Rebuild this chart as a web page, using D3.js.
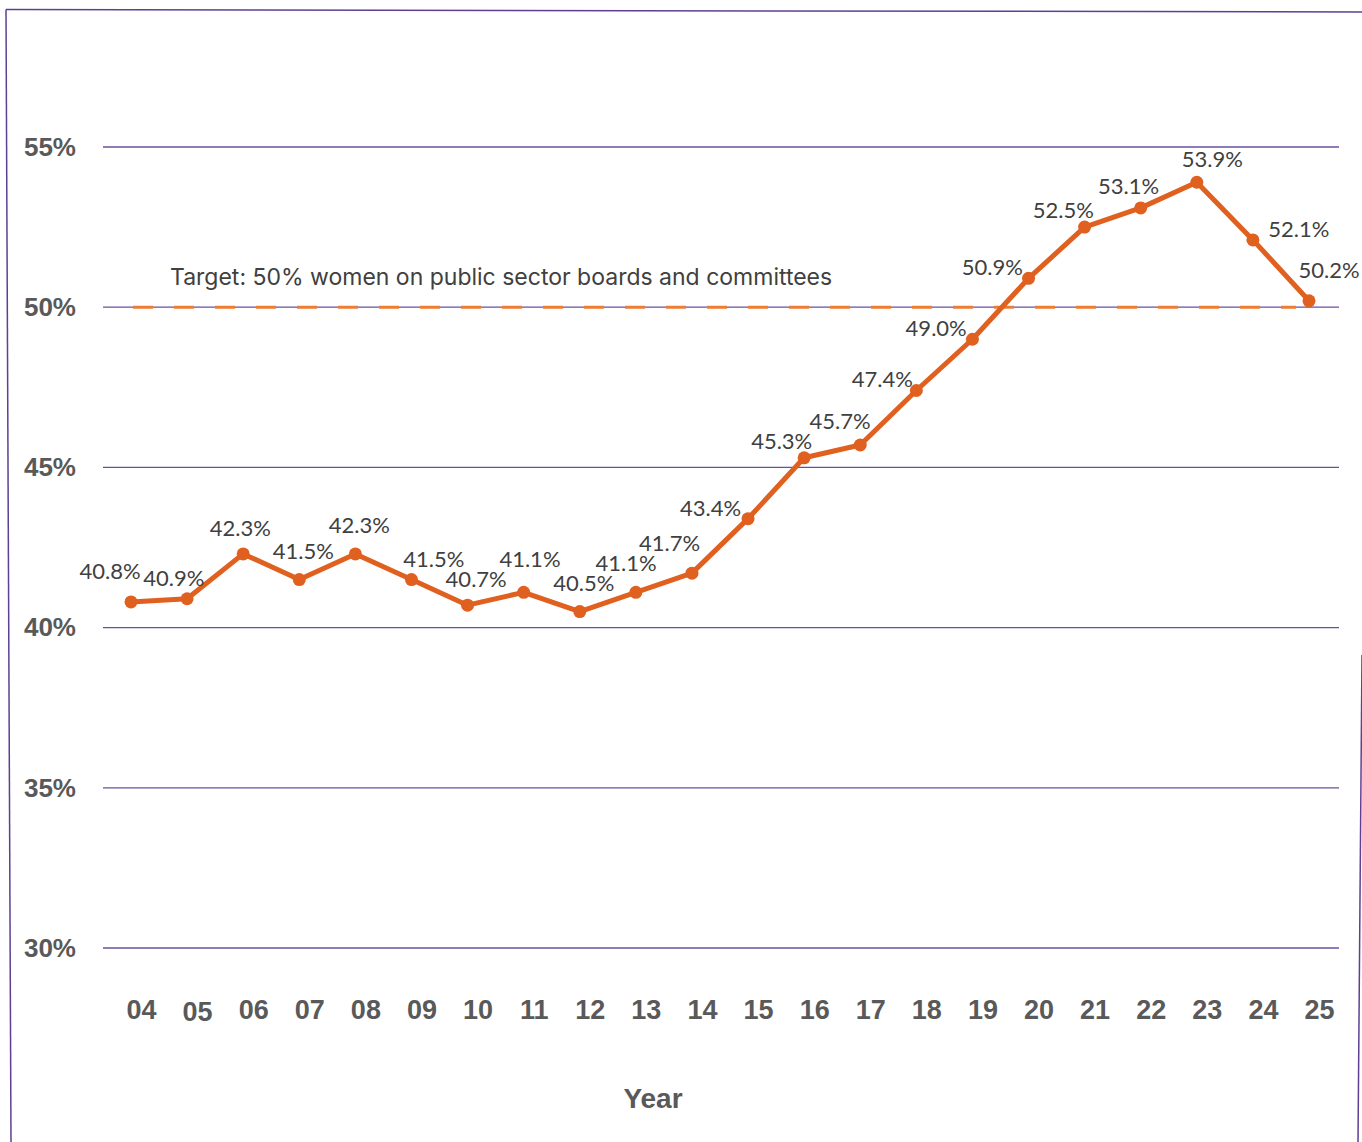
<!DOCTYPE html>
<html>
<head>
<meta charset="utf-8">
<script src="https://cdn.jsdelivr.net/npm/d3@7"></script>
<style>
  html, body { margin: 0; padding: 0; background: #fff; }
  svg { display: block; }
  .tick text { fill: #595959; font-family: "Liberation Sans", Arial, sans-serif; font-weight: bold; }
</style>
</head>
<body>
<div id="chart"></div>
<script>
const years = ['04', '05', '06', '07', '08', '09', '10', '11', '12', '13', '14',
               '15', '16', '17', '18', '19', '20', '21', '22', '23', '24', '25'];
const womenShare = [40.8, 40.9, 42.3, 41.5, 42.3, 41.5, 40.7, 41.1, 40.5, 41.1, 41.7,
                    43.4, 45.3, 45.7, 47.4, 49.0, 50.9, 52.5, 53.1, 53.9, 52.1, 50.2];
const yTicks = [30, 35, 40, 45, 50, 55];
const target = 50;
const targetLabel = 'Target: 50% women on public sector boards and committees';

const width = 1362,
  height = 1142,
  gridLeft = 103,
  gridRight = 1339,
  lineColor = '#e0601f',
  gridColor = '#6b4f9e';

const x = d3.scalePoint().domain(years).range([131, 1309]);
const y = d3.scaleLinear().domain([30, 55]).range([948, 147]);

const svg = d3.select('#chart')
  .append('svg')
  .attr('width', width)
  .attr('height', height)
  .attr('viewBox', [0, 0, width, height]);

// purple frame round the picture
const frame = svg.append('g')
  .attr('stroke', '#5e3f93')
  .attr('stroke-width', 1.5)
  .attr('fill', 'none');
frame.append('line').attr('x1', 6).attr('y1', 9.5).attr('x2', 1362).attr('y2', 12);
frame.append('line').attr('x1', 6).attr('y1', 9.5).attr('x2', 11).attr('y2', 1142);
frame.append('line').attr('x1', 1362).attr('y1', 655).attr('x2', 1358).attr('y2', 1142);

// gridlines
svg.append('g')
  .selectAll('line')
  .data(yTicks)
  .join('line')
  .attr('x1', gridLeft)
  .attr('x2', gridRight)
  .attr('y1', d => y(d))
  .attr('y2', d => y(d))
  .attr('stroke', gridColor)
  .attr('stroke-width', 1.3);

// y axis labels
const yAxis = svg.append('g')
  .attr('transform', 'translate(76,0)')
  .call(d3.axisLeft(y).tickValues(yTicks).tickSize(0).tickPadding(0).tickFormat(d => d + '%'));
yAxis.select('.domain').remove();
yAxis.selectAll('text').style('font-size', '26px');

// x axis labels
const xAxis = svg.append('g')
  .attr('transform', 'translate(10,1000)')
  .call(d3.axisBottom(x).tickSize(0).tickPadding(0));
xAxis.select('.domain').remove();
xAxis.selectAll('text').style('font-size', '27px');
xAxis.selectAll('text').filter(d => d === '05').attr('dy', '0.78em');

svg.append('text')
  .attr('x', 653)
  .attr('y', 1108)
  .attr('text-anchor', 'middle')
  .attr('fill', '#595959')
  .style('font-family', '"Liberation Sans", Arial, sans-serif')
  .style('font-weight', 'bold')
  .style('font-size', '28px')
  .text('Year');

// target line
svg.append('line')
  .attr('x1', 133)
  .attr('x2', 1296)
  .attr('y1', y(target))
  .attr('y2', y(target))
  .attr('stroke', '#ed7d31')
  .attr('stroke-width', 3)
  .attr('stroke-dasharray', '20 21');

svg.append('text')
  .attr('x', 170)
  .attr('y', y(target) - 22)
  .attr('fill', '#404040')
  .style('font-family', 'Inter, sans-serif')
  .style('font-size', '23px')
  .text(targetLabel);

// data line
const line = d3.line()
  .x((d, i) => x(years[i]))
  .y(d => y(d));

svg.append('path')
  .datum(womenShare)
  .attr('d', line)
  .attr('fill', 'none')
  .attr('stroke', lineColor)
  .attr('stroke-width', 5)
  .attr('stroke-linejoin', 'round');

svg.append('g')
  .selectAll('circle')
  .data(womenShare)
  .join('circle')
  .attr('cx', (d, i) => x(years[i]))
  .attr('cy', d => y(d))
  .attr('r', 6.5)
  .attr('fill', lineColor);

// labels sit above the point, pushed sideways where the line is steep;
// the two end labels lean outwards
const last = womenShare.length - 1;
const localSlope = i => {
  if (i === 0 || i === last) return 0;
  return (womenShare[i + 1] - womenShare[i - 1]) / 2;
};
const labelDx = i => {
  if (i === 0) return -21;
  if (i === last) return 20;
  return 4 + Math.max(-42, Math.min(42, -localSlope(i) * 23));
};
const labelDy = i => (i === 0 || i === last) ? -31 : -29 + Math.min(Math.abs(localSlope(i)), 1.8) * 10;

const labels = svg.append('g')
  .selectAll('text')
  .data(womenShare)
  .join('text')
  .attr('x', (d, i) => x(years[i]) + labelDx(i))
  .attr('y', (d, i) => y(d) + labelDy(i))
  .attr('text-anchor', 'middle')
  .attr('dominant-baseline', 'central')
  .attr('fill', '#404040')
  .style('font-family', 'Lato, "Open Sans", sans-serif')
  .style('font-size', '22px')
  .text(d => d.toFixed(1) + '%');

// nudge a label up when it runs into the one before it
const glyphH = 18;
const nodes = labels.nodes();
for (let i = 1; i < nodes.length; i++) {
  const a = nodes[i - 1].getBBox(), b = nodes[i].getBBox();
  const ay = +nodes[i - 1].getAttribute('y'), by = +nodes[i].getAttribute('y');
  const hit = b.x < a.x + a.width && a.x < b.x + b.width && Math.abs(ay - by) < glyphH;
  if (hit) {
    const shift = glyphH - Math.abs(ay - by) + 2;
    nodes[i].setAttribute('y', by <= ay ? by - shift : by + shift);
  }
}
</script>
</body>
</html>
